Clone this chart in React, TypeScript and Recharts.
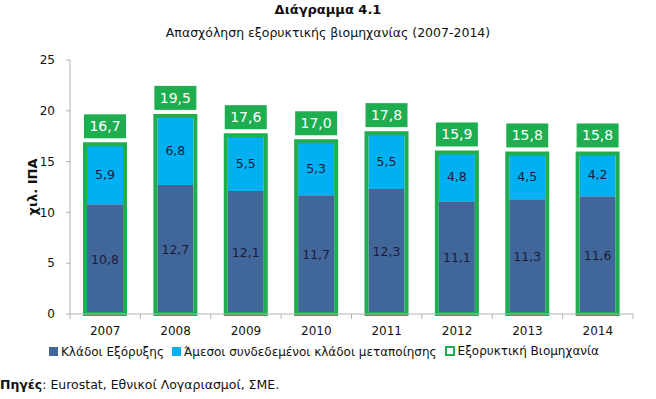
import { Bar, BarChart, LabelList, XAxis, YAxis } from "recharts";

const years = ["2007", "2008", "2009", "2010", "2011", "2012", "2013", "2014"];
const mining = [10.8, 12.7, 12.1, 11.7, 12.3, 11.1, 11.3, 11.6];
const manufacturing = [5.9, 6.8, 5.5, 5.3, 5.5, 4.8, 4.5, 4.2];
const totals = [16.7, 19.5, 17.6, 17.0, 17.8, 15.9, 15.8, 15.8];
const yTicks = [0, 5, 10, 15, 20, 25];

const rows = years.map((year, i) => ({
  year,
  mining: mining[i],
  manufacturing: manufacturing[i],
  total: totals[i],
}));

const W = 656;
const H = 399;
const MARGIN = { top: 60, right: 23, bottom: 0, left: 0 };
const Y_AXIS_W = 70;
const X_AXIS_H = 85;
const PLOT_W = W - MARGIN.right - Y_AXIS_W;
const STEP = PLOT_W / years.length;

const FONT = "'DejaVu Sans', Verdana, sans-serif";
const DARK_BLUE = "#41679A";
const LIGHT_BLUE = "#00B0F0";
const GREEN = "#1EAD4F";
const AXIS = "#B3B3B3";

const fmt = (v: number) => v.toFixed(1).replace(".", ",");

function YearTick(props: any) {
  const { x, y, payload, index } = props;
  const left = x - STEP / 2;
  return (
    <g>
      <line x1={left} x2={left} y1={y} y2={y + 5} stroke={AXIS} />
      {index === years.length - 1 && <line x1={x + STEP / 2} x2={x + STEP / 2} y1={y} y2={y + 5} stroke={AXIS} />}
      <text x={x} y={y + 21} textAnchor="middle" fontSize={12} fontFamily={FONT} fill="#111">
        {payload.value}
      </text>
    </g>
  );
}

function TotalLabel(props: any) {
  const { x, y, width, value } = props;
  const cx = x + width / 2;
  return (
    <g>
      <rect x={cx - 21} y={y - 30} width={42} height={24} fill={GREEN} />
      <text x={cx} y={y - 13} textAnchor="middle" fontSize={14} fontFamily={FONT} fill="#fff">
        {fmt(value)}
      </text>
    </g>
  );
}

function LegendItem({ color, hollow, label }: { color: string; hollow?: boolean; label: string }) {
  return (
    <span style={{ display: "inline-flex", alignItems: "center", marginRight: 8 }}>
      <span
        style={{
          display: "inline-block",
          width: hollow ? 6 : 9,
          height: hollow ? 6 : 9,
          background: hollow ? "#fff" : color,
          border: hollow ? `2px solid ${color}` : "none",
          marginRight: 3,
        }}
      />
      {label}
    </span>
  );
}

export default function App() {
  return (
    <div style={{ position: "absolute", top: 0, left: 0, width: W, height: H, background: "#fff", fontFamily: FONT, color: "#111" }}>
      <div style={{ position: "absolute", top: 2, left: 0, width: W, textAlign: "center", fontSize: 13, fontWeight: "bold" }}>
        Διάγραμμα 4.1
      </div>
      <div style={{ position: "absolute", top: 25, left: 0, width: W, textAlign: "center", fontSize: 12.5 }}>
        Απασχόληση εξορυκτικής βιομηχανίας (2007-2014)
      </div>
      <BarChart width={W} height={H} data={rows} margin={MARGIN}>
        <XAxis
          dataKey="year"
          xAxisId="main"
          stroke={AXIS}
          tickLine={false}
          tickSize={0}
          tickMargin={0}
          tick={<YearTick />}
          height={X_AXIS_H}
        />
        <XAxis dataKey="year" xAxisId="total" hide />
        <YAxis
          domain={[0, 25]}
          ticks={yTicks}
          width={Y_AXIS_W}
          stroke={AXIS}
          tickSize={4}
          tickMargin={11}
          tick={{ fill: "#111", fontSize: 12, fontFamily: FONT }}
          label={{
            value: "χιλ. ΙΠΑ",
            angle: -90,
            position: "center",
            dx: -3,
            style: { fontWeight: "bold", fontSize: 13, fontFamily: FONT, fill: "#111", textAnchor: "middle" },
          }}
        />
        <Bar dataKey="mining" stackId="a" xAxisId="main" fill={DARK_BLUE} barSize={36} isAnimationActive={false}>
          <LabelList dataKey="mining" position="center" formatter={(v: any) => fmt(Number(v))} style={{ fill: "#1B1B3A", fontSize: 12.5, fontFamily: FONT }} />
        </Bar>
        <Bar dataKey="manufacturing" stackId="a" xAxisId="main" fill={LIGHT_BLUE} barSize={36} isAnimationActive={false}>
          <LabelList dataKey="manufacturing" position="center" formatter={(v: any) => fmt(Number(v))} style={{ fill: "#1B1B3A", fontSize: 12.5, fontFamily: FONT }} />
        </Bar>
        <Bar dataKey="total" xAxisId="total" fill="none" stroke={GREEN} strokeWidth={4} barSize={40} isAnimationActive={false}>
          <LabelList dataKey="total" content={<TotalLabel />} />
        </Bar>
      </BarChart>
      <div style={{ position: "absolute", top: 344, left: 0, width: W, textAlign: "center", fontSize: 12, whiteSpace: "nowrap" }}>
        <LegendItem color={DARK_BLUE} label="Κλάδοι Εξόρυξης" />
        <LegendItem color={LIGHT_BLUE} label="Άμεσοι συνδεδεμένοι κλάδοι μεταποίησης" />
        <LegendItem color={GREEN} hollow label="Εξορυκτική Βιομηχανία" />
      </div>
      <div style={{ position: "absolute", top: 377, left: 0, fontSize: 12.5 }}>
        <b>Πηγές</b>: Eurostat, Εθνικοί Λογαριασμοί, ΣΜΕ.
      </div>
    </div>
  );
}
